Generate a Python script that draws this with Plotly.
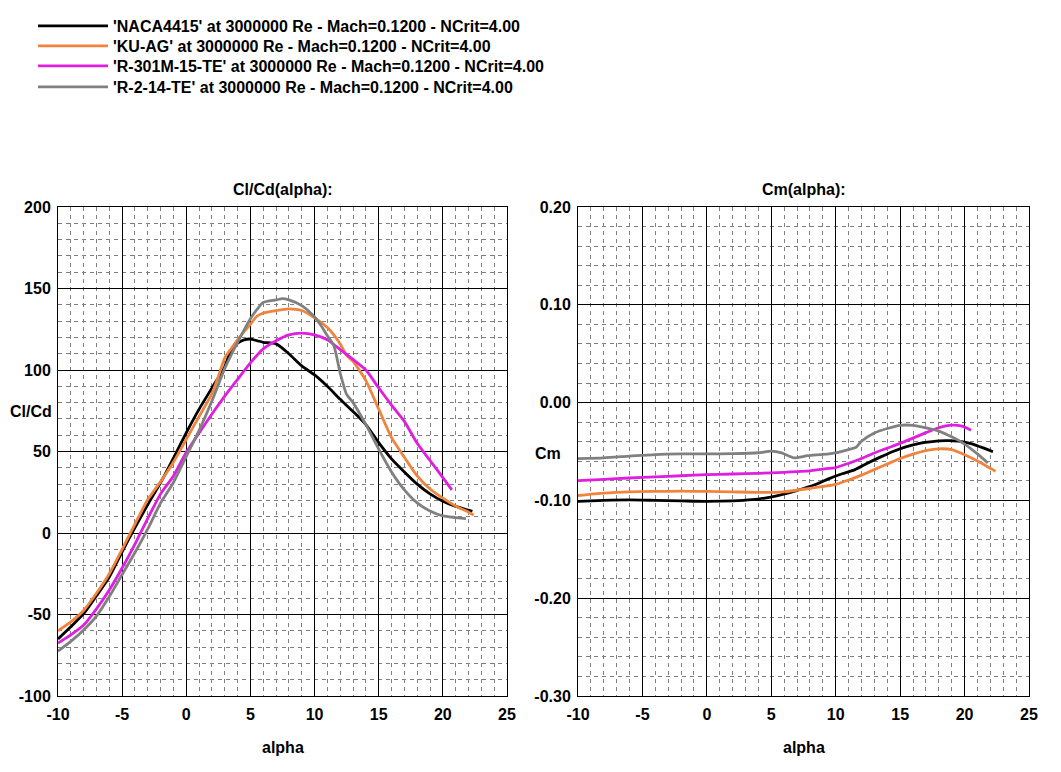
import plotly.graph_objects as go

# polar names
names = ["'NACA4415' at 3000000 Re - Mach=0.1200 - NCrit=4.00",
         "'KU-AG' at 3000000 Re - Mach=0.1200 - NCrit=4.00",
         "'R-301M-15-TE' at 3000000 Re - Mach=0.1200 - NCrit=4.00",
         "'R-2-14-TE' at 3000000 Re - Mach=0.1200 - NCrit=4.00"]
colors = ["#000000", "#F0843C", "#E01EE0", "#808080"]

# axis ticks
alpha_ticks = [-10, -5, 0, 5, 10, 15, 20, 25]
alpha_labels = ["-10", "-5", "0", "5", "10", "15", "20", "25"]
clcd_ticks = [-100, -50, 0, 50, 100, 150, 200]
clcd_labels = ["-100", "-50", "0", "50", "100", "150", "200"]
cm_ticks = [-0.3, -0.2, -0.1, 0.0, 0.1, 0.2]
cm_labels = ["-0.30", "-0.20", "-0.10", "0.00", "0.10", "0.20"]

# Cl/Cd vs alpha
naca_a = [-10, -9, -8, -7, -6, -5, -4, -3, -2, -1, 0, 1, 2, 3, 3.5, 4, 4.5, 5, 5.5, 6, 7, 8, 9,
          10, 11, 12, 13, 14, 15, 16, 17, 18, 19, 20, 21, 22, 22.3]
naca_clcd = [-65, -57.5, -49.5, -38.5, -27, -11.5, 3.3, 17.5, 31, 46, 61.5, 76, 89, 102, 112.5,
             116.5, 118.5, 119, 118, 117, 116, 110, 102.5, 97, 90, 82, 74.5, 66.5, 55.5, 45.5,
             37.5, 30, 24, 19.5, 16.3, 14, 13.3]

kuag_a = [-10, -9, -8, -7, -6, -5, -4, -3, -2, -1, 0, 1, 2, 2.5, 3, 3.5, 4, 4.5, 5, 5.5, 6, 7, 8,
          9, 10, 11, 12, 12.5, 13, 14, 15, 16, 17, 18, 19, 20, 21, 22, 22.4]
kuag_clcd = [-60, -54.5, -47.5, -37, -25, -10, 5.5, 20.5, 31.5, 43.5, 57.5, 71.5, 85.5, 96, 107.5,
             113, 118.5, 123.5, 128, 133, 135, 136.5, 137.5, 136.5, 132, 126, 116, 109, 105.3,
             93.5, 76, 58.5, 46.5, 35, 27, 21.4, 16.5, 12.8, 11]

r301_a = [-10, -9, -8, -7, -6, -5, -4, -3, -2, -1, 0, 1, 2, 3, 4, 5, 6, 7, 8, 9, 10, 11, 12, 13,
          14, 15, 16, 17, 18, 19, 20, 20.7]
r301_clcd = [-67.5, -62.5, -56.5, -46.5, -35, -21.5, -6.8, 9, 24, 35, 49.5, 61.3, 73, 84, 94.3,
             104.4, 113, 118, 121.6, 122.6, 121.5, 118.5, 112.5, 106.5, 100, 89, 78.5, 68.5, 55,
             44.5, 34, 26.5]

r214_a = [-10, -9, -8, -7, -6, -5, -4, -3, -2, -1, 0, 1, 2, 3, 4, 5, 5.5, 6, 7, 7.5, 8, 9, 10,
          10.5, 11, 11.5, 12, 12.5, 13, 14, 15, 16, 17, 18, 19, 20, 21, 21.8]
r214_clcd = [-72.5, -66.5, -59.5, -51, -39, -25.5, -12, 2.5, 18.5, 31, 47, 63, 81, 101, 117, 131.5,
             137, 141.5, 143, 143.8, 143, 139.5, 132.5, 127.3, 121, 115, 98, 85, 80, 66.5, 51.5,
             37.5, 26.5, 18.5, 13.5, 10.5, 9.5, 8.8]

# Cm vs alpha
naca_cm_a = [-10, -8, -6, -4, -2, 0, 2, 3.5, 4.5, 5.5, 6.5, 7.5, 8.5, 9.5, 10.5, 11.5, 12.5, 13.5,
             14.5, 15.5, 16.5, 17.5, 18.5, 19.5, 20.5, 21.5, 22.2]
naca_cm = [-0.101, -0.1, -0.0995, -0.1, -0.1005, -0.101, -0.1005, -0.0993, -0.0976, -0.095, -0.0918,
           -0.0878, -0.0835, -0.0777, -0.0728, -0.0685, -0.0617, -0.0555, -0.0497, -0.045, -0.0417,
           -0.0399, -0.0389, -0.0393, -0.0419, -0.0466, -0.0502]

kuag_cm_a = [-10, -8, -6, -4, -2, 0, 2, 4, 6, 7, 8, 9, 10, 11, 12, 13, 14, 15, 16, 17, 18, 19, 20,
             21, 22, 22.4]
kuag_cm = [-0.095, -0.0925, -0.0912, -0.0908, -0.0906, -0.0908, -0.0912, -0.0918, -0.0912, -0.0895,
           -0.0877, -0.0858, -0.0837, -0.0792, -0.0742, -0.0685, -0.0628, -0.0572, -0.0526, -0.0491,
           -0.0473, -0.048, -0.0533, -0.0597, -0.0672, -0.0703]

r301_cm_a = [-10, -8, -6, -4, -2, 0, 2, 4, 6, 7, 8, 9, 10, 11, 12, 13, 14, 15, 16, 17, 18, 19,
             19.8, 20.5]
r301_cm = [-0.0798, -0.0784, -0.0771, -0.0759, -0.0748, -0.0737, -0.073, -0.0723, -0.0713, -0.0705,
           -0.0698, -0.068, -0.0664, -0.0621, -0.0572, -0.0515, -0.0466, -0.0417, -0.0363, -0.0307,
           -0.0257, -0.0231, -0.0241, -0.0282]

r214_cm_a = [-10, -8, -6, -4, -2, 0, 2, 4, 5, 5.8, 6.8, 7.8, 9, 10, 11, 11.6, 12, 13, 14, 15, 16,
             17, 18, 19, 20, 21, 21.8]
r214_cm = [-0.0573, -0.0565, -0.0547, -0.0531, -0.0525, -0.0525, -0.0522, -0.0513, -0.0497, -0.0515,
           -0.0566, -0.0543, -0.053, -0.0513, -0.048, -0.0455, -0.0395, -0.031, -0.0265, -0.0232,
           -0.0233, -0.0258, -0.0291, -0.035, -0.0424, -0.0525, -0.0617]

clcd_sets = [(naca_a, naca_clcd), (kuag_a, kuag_clcd), (r301_a, r301_clcd), (r214_a, r214_clcd)]
cm_sets = [(naca_cm_a, naca_cm), (kuag_cm_a, kuag_cm), (r301_cm_a, r301_cm), (r214_cm_a, r214_cm)]

FONT = "Arial, Liberation Sans, sans-serif"
# page has an 8px body margin, so the figure is a bit smaller and positions are shifted
OFF = 8
W, H = 1061 - OFF, 772 - OFF

def px_x(p):
    return (p - OFF) / W

def px_y(p):
    return (H - (p - OFF)) / H

legend_keys = ["legend", "legend2", "legend3", "legend4"]
legend_rows = [26, 46, 66, 87]

fig = go.Figure()
for i in range(4):
    a, v = clcd_sets[i]
    fig.add_trace(go.Scatter(x=a, y=v, mode="lines", name=names[i], legend=legend_keys[i],
                             line=dict(color=colors[i], width=2.8, shape="spline", smoothing=0.6),
                             xaxis="x", yaxis="y"))
for i in range(4):
    a, v = cm_sets[i]
    fig.add_trace(go.Scatter(x=a, y=v, mode="lines", name=names[i], showlegend=False,
                             line=dict(color=colors[i], width=2.8, shape="spline", smoothing=0.6),
                             xaxis="x2", yaxis="y2"))

tickfont = dict(family=FONT, size=16, color="black", weight="bold")
grid_minor = dict(showgrid=True, gridcolor="#808080", griddash="4px,4px", gridwidth=1)

def xax(dom, anchor):
    return dict(domain=dom, range=[-10, 25], tickmode="array", tickvals=alpha_ticks,
                ticktext=alpha_labels, showgrid=True, gridcolor="black", gridwidth=1,
                zeroline=False, showline=True, mirror=True, linecolor="black", linewidth=1,
                ticks="", tickfont=tickfont, automargin=False, anchor=anchor,
                ticklabelstandoff=4, minor=dict(tickmode="linear", tick0=0, dtick=1, **grid_minor))

def yax(rng, vals, labels, mdt, anchor):
    return dict(domain=[px_y(696), px_y(207)], range=rng, tickmode="array", tickvals=vals,
                ticktext=labels, showgrid=True, gridcolor="black", gridwidth=1, zeroline=False,
                showline=True, mirror=True, linecolor="black", linewidth=1, ticks="",
                tickfont=tickfont, automargin=False, anchor=anchor, ticklabelstandoff=3,
                minor=dict(tickmode="linear", tick0=0, dtick=mdt, **grid_minor))

layout = dict(
    width=W, height=H,
    margin=dict(l=0, r=0, t=0, b=0),
    paper_bgcolor="white", plot_bgcolor="white",
    font=dict(family=FONT, color="black"),
    xaxis=xax([px_x(58), px_x(507)], "y"),
    yaxis=yax([-100, 200], clcd_ticks, clcd_labels, 10, "x"),
    xaxis2=xax([px_x(578), px_x(1029)], "y2"),
    yaxis2=yax([-0.3, 0.2], cm_ticks, cm_labels, 0.02, "x2"),
    showlegend=True,
)
for key, row in zip(legend_keys, legend_rows):
    layout[key] = dict(x=px_x(33), y=px_y(row), xanchor="left", yanchor="middle", itemwidth=70,
                       font=dict(family=FONT, size=16, color="black", weight="bold"),
                       bgcolor="rgba(0,0,0,0)")
fig.update_layout(**layout)

ann = [
    ("Cl/Cd(alpha):", 283, 190, "center"),
    ("Cm(alpha):", 804, 190, "center"),
    ("alpha", 283, 747, "center"),
    ("alpha", 804, 747, "center"),
    ("Cl/Cd", 8, 411, "left"),
    ("Cm", 548, 453, "center"),
]
for txt, x, y, xa in ann:
    fig.add_annotation(text=txt, x=px_x(x), y=px_y(y), xref="paper", yref="paper",
                       showarrow=False, xanchor=xa, yanchor="middle",
                       font=dict(family=FONT, size=16, color="black", weight="bold"))

fig.write_html("out.html")
